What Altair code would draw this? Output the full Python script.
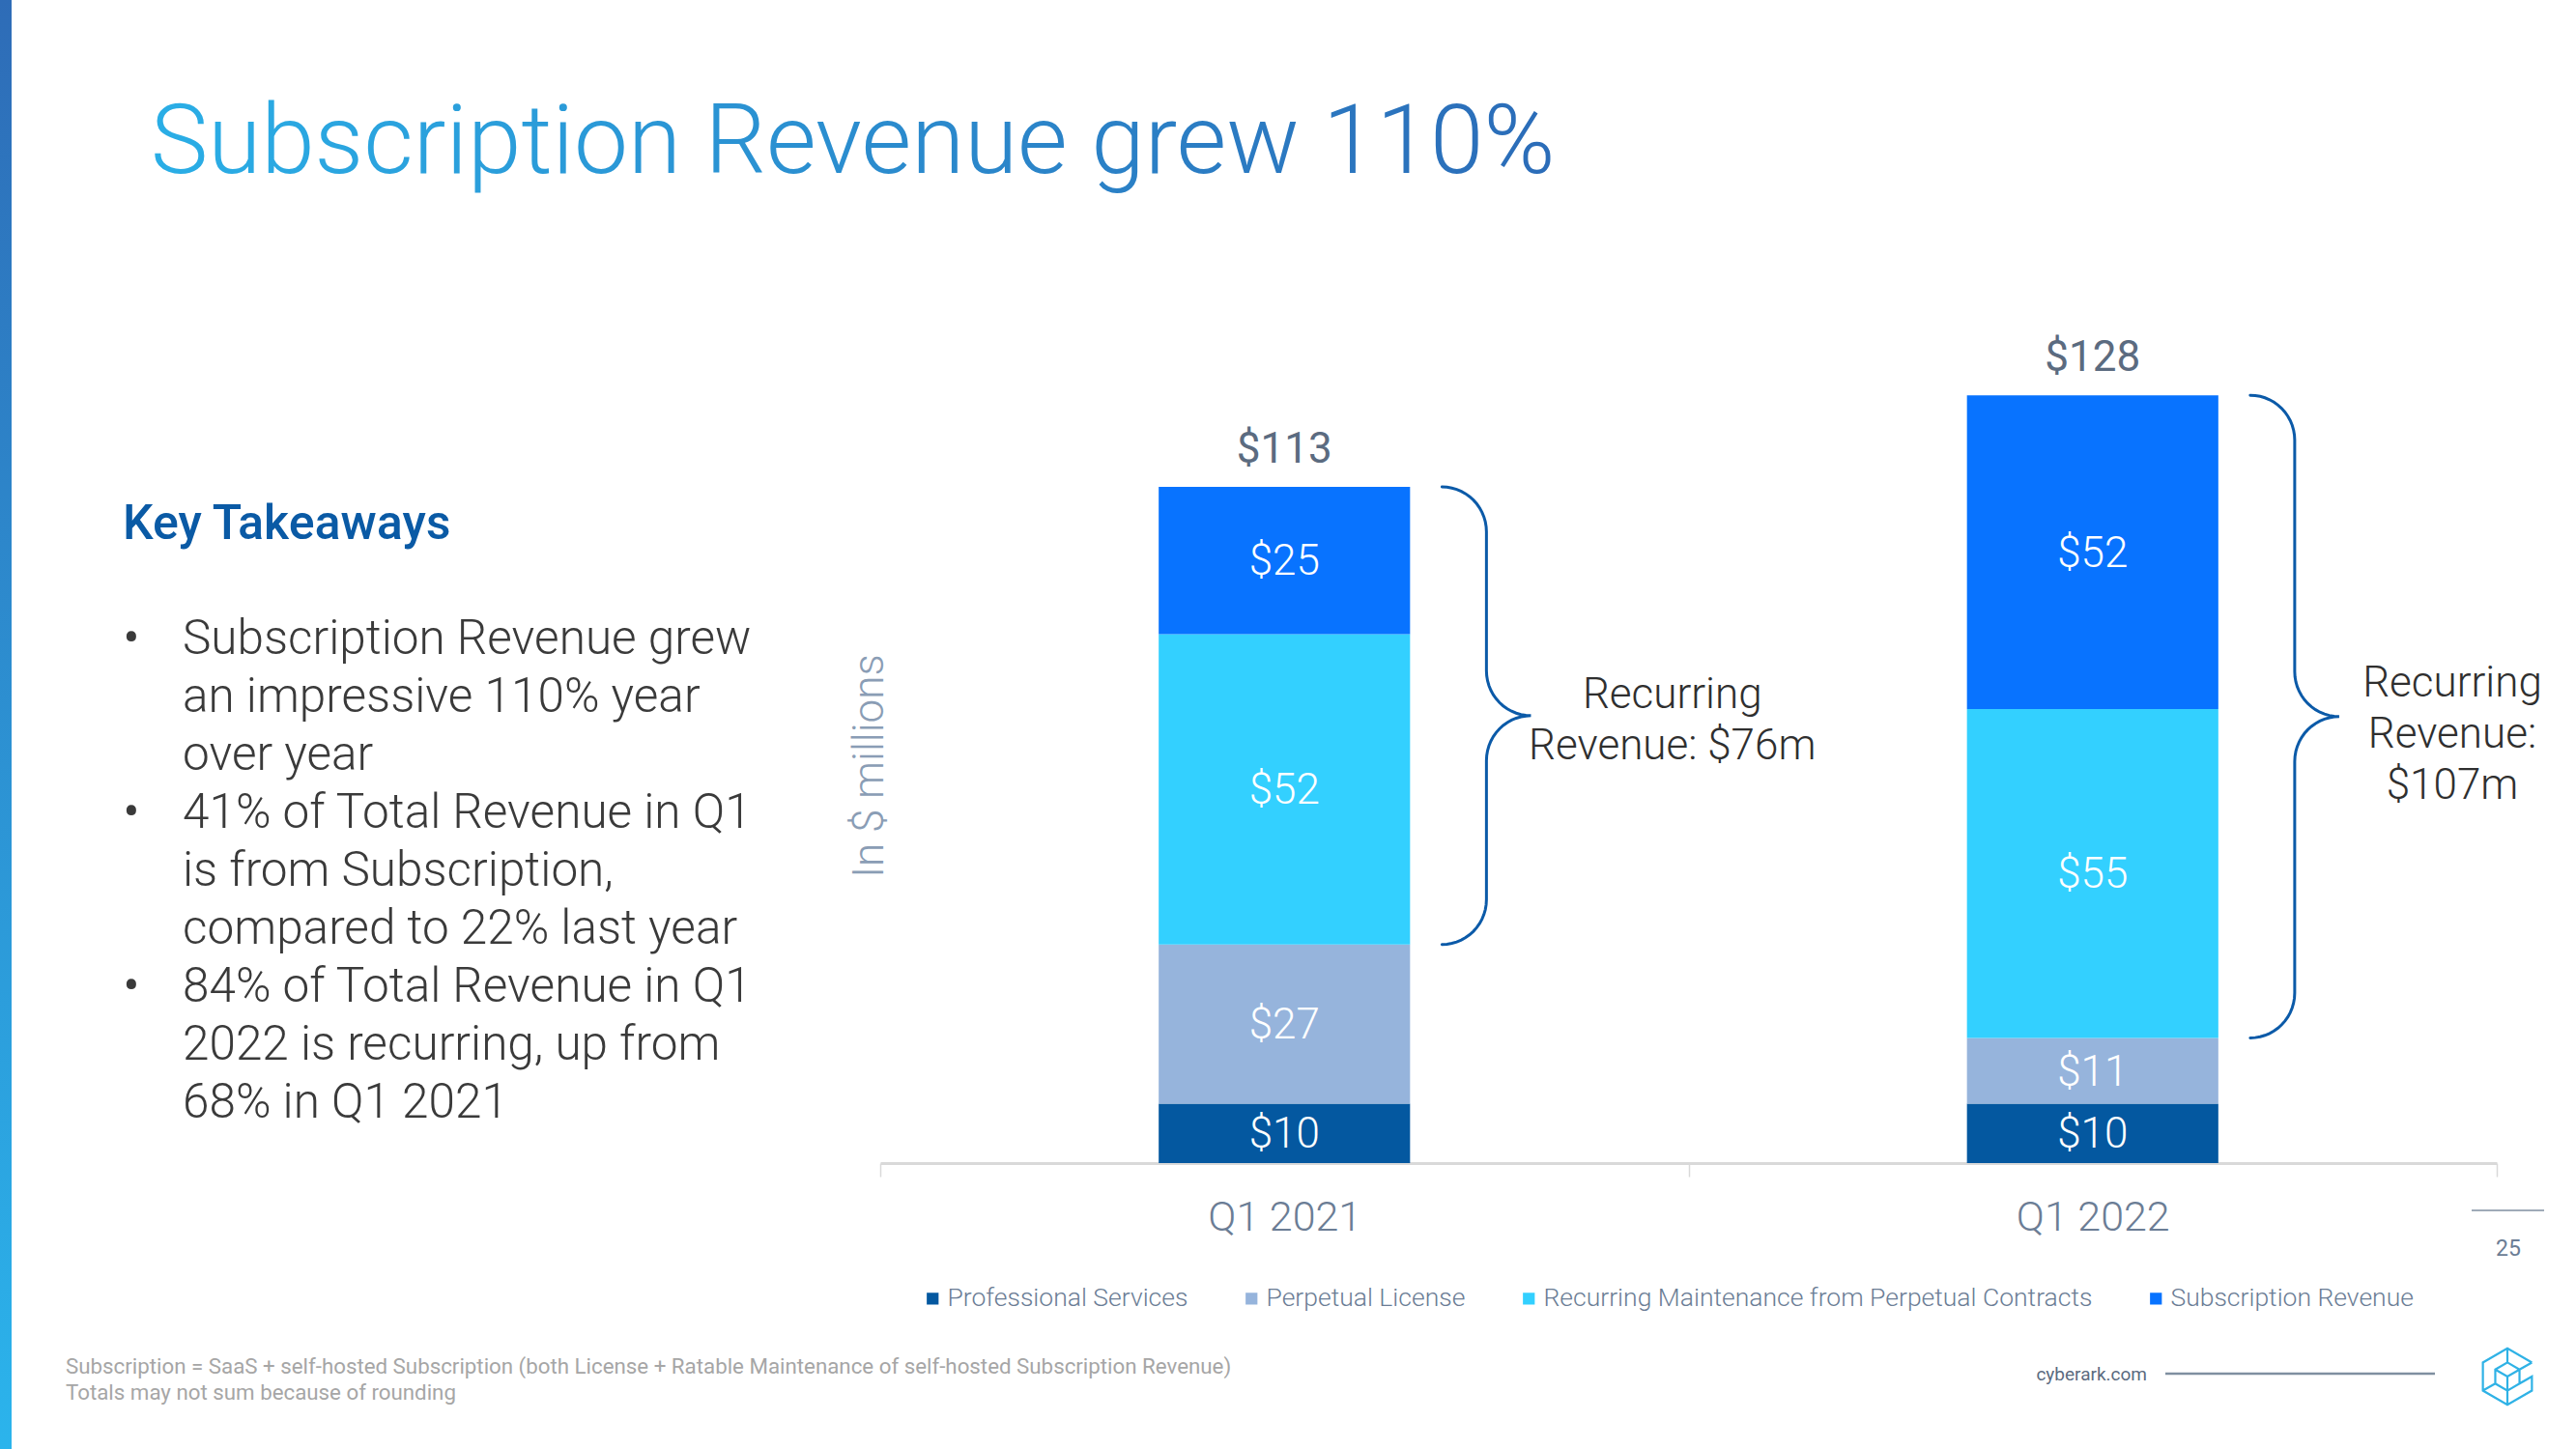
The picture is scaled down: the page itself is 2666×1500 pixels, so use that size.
import math
import altair as alt
import pandas as pd

# ---------------- data ----------------
quarters = ["Q1 2021", "Q1 2022"]
series_names = [
    "Professional Services",
    "Perpetual License",
    "Recurring Maintenance from Perpetual Contracts",
    "Subscription Revenue",
]
professional_services = [9.9, 9.9]
perpetual_license = [26.6, 11.0]
recurring_maintenance = [51.8, 54.9]
subscription_revenue = [24.6, 52.4]
series_colors = ["#0458A0", "#96B4DC", "#33D0FF", "#0873FF"]

title_text = "Subscription Revenue grew 110%"
takeaways_heading = "Key Takeaways"
takeaway_lines = [
    "Subscription Revenue grew",
    "an impressive 110% year",
    "over year",
    "41% of Total Revenue in Q1",
    "is from Subscription,",
    "compared to 22% last year",
    "84% of Total Revenue in Q1",
    "2022 is recurring, up from",
    "68% in Q1 2021",
]
bullet_start_lines = [0, 3, 6]
footnote_lines = [
    "Subscription = SaaS + self-hosted Subscription (both License + Ratable Maintenance of self-hosted Subscription Revenue)",
    "Totals may not sum because of rounding",
]
brace_label_templates = ["Recurring\nRevenue: ${v}m", "Recurring\nRevenue:\n${v}m"]
y_axis_title = "In $ millions"
site_text = "cyberark.com"
page_number = "25"

# ---------------- tables ----------------
series_values = [professional_services, perpetual_license, recurring_maintenance, subscription_revenue]
rows = []
for qi, q in enumerate(quarters):
    for si, s in enumerate(series_names):
        rows.append({"quarter": q, "series": s, "value": series_values[si][qi], "order": si})
df = pd.DataFrame(rows)

# braces around recurring part (maintenance + subscription)
B_START, B_SPINE, B_TIP = 0.195, 0.25, 0.305  # offsets from bar centre (category units)
R_Y = 7.5  # curl radius in data units
label_offsets = [0.48, 0.445]     # label centre offset from bar centre (category units)
label_nudges = [3.3, 5.5]         # vertical nudge of label block (data units)
brace_rows = []
label_rows = []
for qi, q in enumerate(quarters):
    cx = qi + 0.5
    ybot = professional_services[qi] + perpetual_license[qi]
    ytop = ybot + recurring_maintenance[qi] + subscription_revenue[qi]
    ymid = (ybot + ytop) / 2
    x0, xs, xt = cx + B_START, cx + B_SPINE, cx + B_TIP
    dx = xs - x0
    pts = []
    n = 14
    for k in range(n + 1):
        t = k / n * math.pi / 2
        pts.append((x0 + dx * math.sin(t), ytop - R_Y + R_Y * math.cos(t)))
    for k in range(n + 1):
        t = k / n * math.pi / 2
        pts.append((xt - dx * math.cos(t), ymid + R_Y - R_Y * math.sin(t)))
    for k in range(n + 1):
        t = k / n * math.pi / 2
        pts.append((xt - dx * math.sin(t), ymid - R_Y + R_Y * math.cos(t)))
    for k in range(n + 1):
        t = k / n * math.pi / 2
        pts.append((x0 + dx * math.cos(t), ybot + R_Y - R_Y * math.sin(t)))
    for i, (px, py) in enumerate(pts):
        brace_rows.append({"quarter": q, "i": i, "bx": px, "by": py})
    rec = round(recurring_maintenance[qi] + subscription_revenue[qi])
    label_rows.append({"quarter": q, "bx": cx + label_offsets[qi], "by": ymid + label_nudges[qi],
                       "txt": brace_label_templates[qi].replace("{v}", str(rec))})
brace_df = pd.DataFrame(brace_rows)
brace_label_df = pd.DataFrame(label_rows)

one = pd.DataFrame({"a": [1]})

# ---------------- layout ----------------
W, H = 1673, 868
PAD = {"left": 911, "top": 336, "right": 82, "bottom": 296}
FONT = "Roboto"
LIGHT = "Roboto Light, Roboto"
MEDIUM = "Roboto Medium, Roboto"
LINE_H = 60
TEXT_TOP = 677

xscale = alt.Scale(domain=quarters, paddingInner=0, paddingOuter=0)
yscale = alt.Scale(domain=[0, 140], nice=False, zero=True)
bx_scale = alt.Scale(domain=[0, 2], nice=False, zero=False)

x_axis = alt.Axis(
    title=None, labelAngle=0, labelFont=LIGHT, labelFontSize=43, labelFontWeight=300,
    labelColor="#6B7D95", domainColor="#D9D9D9", domainWidth=3, tickColor="#D9D9D9",
    tickSize=14, tickWidth=1.5, tickBand="extent", labelPadding=21, grid=False,
)
legend = alt.Legend(
    orient="none", legendX=41, legendY=995, direction="horizontal", title=None,
    symbolType="square", symbolSize=150, symbolStrokeWidth=0, labelFont=LIGHT,
    labelFontSize=26.5, labelFontWeight=300, labelColor="#6B7D95", columnPadding=52,
    labelOffset=2, labelLimit=900,
)

bars = alt.Chart(df).mark_bar(width=alt.RelativeBandSize(0.311)).encode(
    x=alt.X("quarter:N", scale=xscale, sort=quarters, axis=x_axis),
    y=alt.Y("value:Q", stack="zero", scale=yscale, axis=None),
    color=alt.Color("series:N", sort=series_names,
                    scale=alt.Scale(domain=series_names, range=series_colors), legend=legend),
    order=alt.Order("order:Q", sort="ascending"),
)

seg_labels = alt.Chart(df).transform_stack(
    stack="value", groupby=["quarter"], as_=["lo", "hi"],
    sort=[alt.SortField("order", order="ascending")],
).transform_calculate(
    mid="(datum.lo + datum.hi) / 2", lab="'$' + format(round(datum.value), 'd')"
).mark_text(font=LIGHT, fontSize=44, fontWeight=300, color="white", baseline="middle", dy=2).encode(
    x=alt.X("quarter:N", scale=xscale, sort=quarters, axis=None),
    y=alt.Y("mid:Q", scale=yscale, axis=None),
    text="lab:N",
)

totals = alt.Chart(df).transform_aggregate(
    total="sum(value)", groupby=["quarter"]
).transform_calculate(
    lab="'$' + format(round(datum.total), 'd')"
).mark_text(font=FONT, fontSize=44, fontWeight=400, color="#5B6B80", baseline="middle", dy=-38).encode(
    x=alt.X("quarter:N", scale=xscale, sort=quarters, axis=None),
    y=alt.Y("total:Q", scale=yscale, axis=None),
    text="lab:N",
)

braces = alt.Chart(brace_df).mark_line(color="#0B5AA8", strokeWidth=3, strokeCap="round").encode(
    x=alt.X("bx:Q", scale=bx_scale, axis=None),
    y=alt.Y("by:Q", scale=yscale, axis=None),
    detail="quarter:N",
    order="i:Q",
)

brace_labels = alt.Chart(brace_label_df).mark_text(
    font=LIGHT, fontSize=44, fontWeight=300, color="#2F2F2F", align="center",
    baseline="middle", lineBreak="\n", lineHeight=53,
).encode(
    x=alt.X("bx:Q", scale=bx_scale, axis=None),
    y=alt.Y("by:Q", scale=yscale, axis=None),
    text="txt:N",
)

# ---------------- page decorations ----------------
stripe = alt.Chart(one).mark_rect(
    color={"gradient": "linear", "x1": 0, "y1": 0, "x2": 0, "y2": 1,
           "stops": [{"offset": 0, "color": "#2E6CB7"}, {"offset": 1, "color": "#2BB4EC"}]}
).encode(x=alt.value(-PAD["left"]), x2=alt.value(-PAD["left"] + 12),
         y=alt.value(-PAD["top"]), y2=alt.value(H + PAD["bottom"]))

title = alt.Chart(one).mark_text(
    text=title_text, font=LIGHT, fontSize=100, fontWeight=300, align="left", baseline="alphabetic",
    color={"gradient": "linear", "x1": 0, "y1": 0, "x2": 1, "y2": 0,
           "stops": [{"offset": 0, "color": "#2AAEE6"}, {"offset": 1, "color": "#2B6CB8"}]},
).encode(x=alt.value(156 - PAD["left"]), y=alt.value(179 - PAD["top"]))

heading = alt.Chart(one).mark_text(
    text=takeaways_heading, font=MEDIUM, fontSize=50, fontWeight=500, color="#0A5AA5",
    align="left", baseline="alphabetic",
).encode(x=alt.value(127 - PAD["left"]), y=alt.value(558 - PAD["top"]))

bullets_text = alt.Chart(one).mark_text(
    text=takeaway_lines, font=LIGHT, fontSize=49.5, fontWeight=300, color="#3A3A3A",
    align="left", baseline="alphabetic", lineHeight=LINE_H,
).encode(x=alt.value(189 - PAD["left"]), y=alt.value(TEXT_TOP - PAD["top"]))

bullet_layers = [
    alt.Chart(one).mark_text(
        text="•", font=FONT, fontSize=50, fontWeight=400, color="#3A3A3A",
        align="center", baseline="alphabetic",
    ).encode(x=alt.value(136 - PAD["left"]), y=alt.value(TEXT_TOP + LINE_H * li - PAD["top"]))
    for li in bullet_start_lines
]

y_title = alt.Chart(one).mark_text(
    text=y_axis_title, font=LIGHT, fontSize=44, fontWeight=300, color="#8A9DB5",
    align="center", baseline="middle", angle=270,
).encode(x=alt.value(901 - PAD["left"]), y=alt.value(793 - PAD["top"]))

footnote = alt.Chart(one).mark_text(
    text=footnote_lines, font=FONT, fontSize=22.3, fontWeight=400, color="#A6A6A6",
    align="left", baseline="alphabetic", lineHeight=27,
).encode(x=alt.value(68 - PAD["left"]), y=alt.value(1422 - PAD["top"]))

site = alt.Chart(one).mark_text(
    text=site_text, font=FONT, fontSize=19, fontWeight=400, color="#5B6B80",
    align="right", baseline="middle",
).encode(x=alt.value(2222 - PAD["left"]), y=alt.value(1423 - PAD["top"]))

site_rule = alt.Chart(one).mark_rule(color="#7F8FA0", strokeWidth=2.5).encode(
    x=alt.value(2241 - PAD["left"]), x2=alt.value(2520 - PAD["left"]), y=alt.value(1422 - PAD["top"]))

page_rule = alt.Chart(one).mark_rule(color="#7F8FA0", strokeWidth=1.5).encode(
    x=alt.value(2558 - PAD["left"]), x2=alt.value(2633 - PAD["left"]), y=alt.value(1253 - PAD["top"]))

page_num = alt.Chart(one).mark_text(
    text=page_number, font=FONT, fontSize=23, fontWeight=400, color="#6B7D95",
    align="center", baseline="middle",
).encode(x=alt.value(2596 - PAD["left"]), y=alt.value(1293 - PAD["top"]))

logo_path = ("M0.87,-0.5 L0,-1 L-0.87,-0.5 L-0.87,0.5 L0,1 L0.87,0.5 L0.87,0 L0.43,0.25 "
             "L0.43,-0.25 L0.87,-0.5 M0,-1 L0,-0.5 L-0.43,-0.25 L-0.43,0.25 L0,0.5 L0,1 "
             "M-0.87,0.5 L-0.43,0.25 M0,0.5 L0.43,0.25 M0,-0.5 L0.43,-0.25 "
             "M-0.43,-0.25 L0,0 L0.43,-0.25 M0,0 L0,0.5")
logo = alt.Chart(one).mark_point(
    shape=logo_path, filled=False, color="#2FB2E6", strokeWidth=2.2, size=3400, opacity=1,
).encode(x=alt.value(2595 - PAD["left"]), y=alt.value(1425 - PAD["top"]))

chart = alt.layer(
    stripe, title, heading, bullets_text, *bullet_layers, y_title, footnote, site, site_rule,
    page_rule, page_num, logo,
    bars, seg_labels, totals, braces, brace_labels,
).resolve_scale(x="independent").properties(
    width=W, height=H, padding=PAD, autosize=alt.AutoSizeParams(type="none"),
    background="white",
).configure_view(stroke=None)

chart.save("out.html", embed_options={"renderer": "svg", "actions": False})
